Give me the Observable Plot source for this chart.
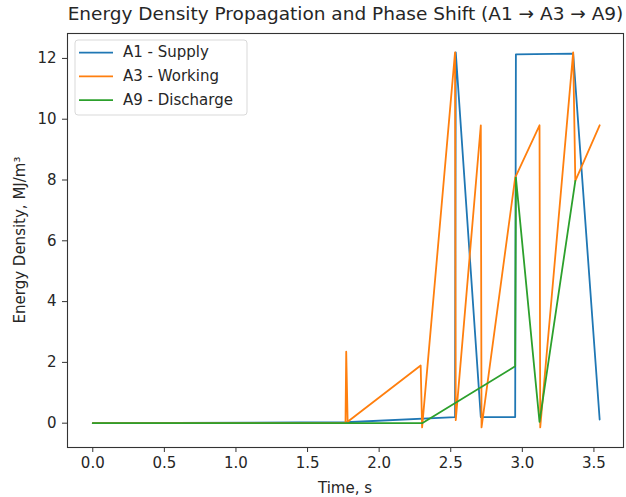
<!DOCTYPE html>
<html><head><meta charset="utf-8">
<script src="https://cdn.jsdelivr.net/npm/d3@7"></script>
<script src="https://cdn.jsdelivr.net/npm/@observablehq/plot@0.6"></script>
<style>body{margin:0;background:#fff}#chart svg{display:block}</style>
</head><body><div id="chart"></div>
<script>
const titleText = "Energy Density Propagation and Phase Shift (A1 \u2192 A3 \u2192 A9)";
const xLabel = "Time, s";
const yLabel = "Energy Density, MJ/m\u00b3";
const seriesNames = ["A1 - Supply", "A3 - Working", "A9 - Discharge"];
const seriesColors = ["#1f77b4", "#ff7f0e", "#2ca02c"];

const a1Time  = [0, 1.77, 2.53, 2.535, 2.71, 2.95, 2.955, 3.355, 3.54];
const a1Value = [0, 0.03, 0.2, 12.2, 0.2, 0.2, 12.13, 12.16, 0.12];

const a3Time  = [0, 1.765, 1.77, 1.78, 2.29, 2.30, 2.53, 2.535, 2.71, 2.715, 2.95, 3.12, 3.125, 3.355, 3.37, 3.54];
const a3Value = [0, 0, 2.35, 0.05, 1.9, -0.14, 12.2, 0.1, 9.8, -0.14, 8.08, 9.8, -0.14, 12.2, 7.97, 9.8];

const a9Time  = [0, 2.30, 2.95, 2.955, 3.12, 3.37];
const a9Value = [0, 0, 1.87, 8.08, 0.04, 7.97];

const xTicks = [0, 0.5, 1.0, 1.5, 2.0, 2.5, 3.0, 3.5];
const yTicks = [0, 2, 4, 6, 8, 10, 12];

const toRows = (ts, vs) => ts.map((t, i) => ({t, v: vs[i]}));
const series = [toRows(a1Time, a1Value), toRows(a3Time, a3Value), toRows(a9Time, a9Value)];

const W = 626, H = 497, ML = 67, MR = 3, MT = 33, MB = 50;
const font = "DejaVu Sans";

const chart = Plot.plot({
  width: W, height: H,
  marginLeft: ML, marginRight: MR, marginTop: MT, marginBottom: MB,
  style: {fontFamily: font, background: "#fff", color: "#262626"},
  x: {domain: [-0.1765, 3.7065]},
  y: {domain: [-0.80, 12.82]},
  marks: [
    Plot.axisX({ticks: xTicks, tickFormat: d3.format(".1f"), tickSize: 5, tickPadding: 5, fontSize: 15, label: null, stroke: "#333"}),
    Plot.axisY({ticks: yTicks, tickFormat: d3.format("d"), tickSize: 5, tickPadding: 6, fontSize: 15, label: null, stroke: "#333"}),
    ...series.map((rows, i) => Plot.line(rows, {x: "t", y: "v", stroke: seriesColors[i], strokeWidth: 1.8})),
    Plot.frame({stroke: "#333", strokeWidth: 1.1}),
    Plot.text([titleText], {frameAnchor: "top", dy: -19, lineAnchor: "middle", fontSize: 18.5, fill: "#262626"})
  ]
});

const svg = d3.select(chart);
const fx = (ML + W - MR) / 2;
svg.append("text").attr("x", fx).attr("y", 488).attr("text-anchor", "middle").attr("dominant-baseline", "middle")
  .attr("font-family", font).attr("font-size", 15).attr("fill", "#262626").text(xLabel);
svg.append("text").attr("transform", `translate(20,${(MT + H - MB) / 2}) rotate(-90)`).attr("text-anchor", "middle").attr("dominant-baseline", "middle")
  .attr("font-family", font).attr("font-size", 15).attr("fill", "#262626").text(yLabel);

const lg = svg.append("g");
lg.append("rect").attr("x", 75).attr("y", 40).attr("width", 172).attr("height", 75).attr("rx", 3)
  .attr("fill", "#fff").attr("fill-opacity", 0.8).attr("stroke", "#d9d9d9");
seriesNames.forEach((name, i) => {
  const y = 52.7 + i * 23.7;
  lg.append("line").attr("x1", 79).attr("x2", 113).attr("y1", y).attr("y2", y).attr("stroke", seriesColors[i]).attr("stroke-width", 1.8);
  lg.append("text").attr("x", 123).attr("y", y).attr("text-anchor", "start").attr("dominant-baseline", "middle")
    .attr("font-family", font).attr("font-size", 15).attr("fill", "#262626").text(name);
});

document.getElementById("chart").appendChild(chart);
</script>
</body></html>
